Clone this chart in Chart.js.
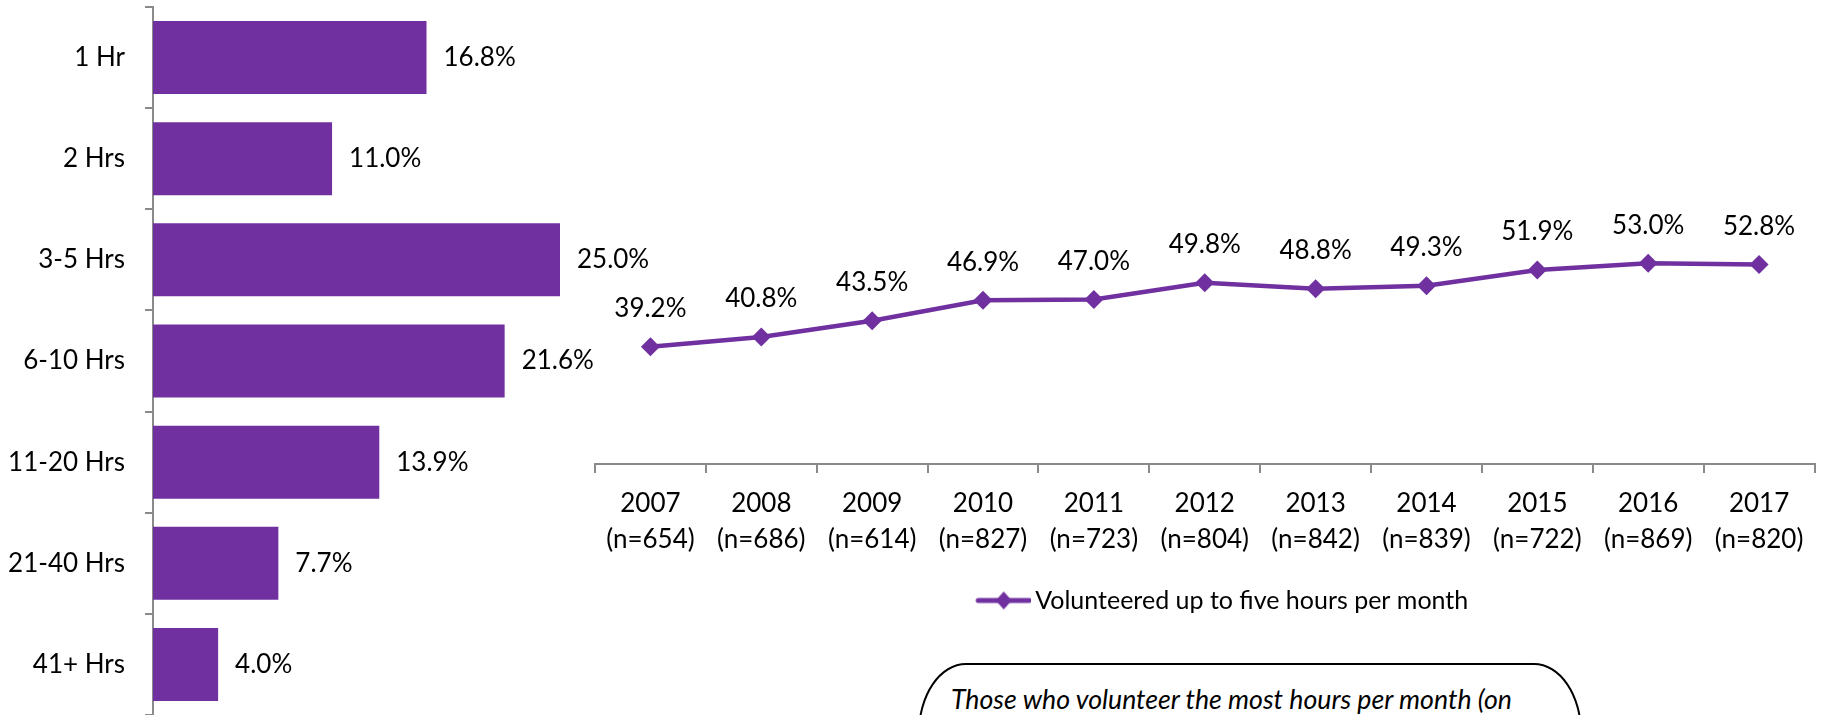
<!DOCTYPE html>
<html lang="en">
<head>
    <meta charset="UTF-8">
    <title>Volunteer Hours per Month</title>
    <style>
        body {
            margin: 0;
            padding: 0;
            background: #ffffff;
            font-family: 'Lato', sans-serif;
        }
        .page {
            position: relative;
            width: 1821px;
            height: 715px;
            overflow: hidden;
        }
        #hoursChart {
            position: absolute;
            left: 0;
            top: 0;
        }
        #trendChart {
            position: absolute;
            left: 560px;
            top: 0;
        }
        .note {
            position: absolute;
            left: 918px;
            top: 663px;
            width: 664px;
            height: 200px;
            box-sizing: border-box;
            border: 2px solid #000;
            border-radius: 48px / 70px;
            padding: 18px 31px;
            font-style: italic;
            font-size: 26.7px;
            line-height: 32px;
            color: #000;
            white-space: nowrap;
        }
    </style>
</head>
<body>
    <div class="page">
        <canvas id="hoursChart" width="700" height="715"></canvas>
        <canvas id="trendChart" width="1264" height="623"></canvas>
        <div class="note">Those who volunteer the most hours per month (on</div>
    </div>

    <script src="https://cdn.jsdelivr.net/npm/chart.js"></script>
    <script>
        // hours volunteered per month, share of volunteers
        const hourGroups = ['1 Hr', '2 Hrs', '3-5 Hrs', '6-10 Hrs', '11-20 Hrs', '21-40 Hrs', '41+ Hrs'];
        const hourShares = [16.8, 11.0, 25.0, 21.6, 13.9, 7.7, 4.0];

        // yearly trend: volunteered up to five hours per month
        const years = ['2007', '2008', '2009', '2010', '2011', '2012', '2013', '2014', '2015', '2016', '2017'];
        const sampleSizes = [654, 686, 614, 827, 723, 804, 842, 839, 722, 869, 820];
        const upToFive = [39.2, 40.8, 43.5, 46.9, 47.0, 49.8, 48.8, 49.3, 51.9, 53.0, 52.8];

        const purple = '#7030A0';
        const axisGray = '#8a8a8a';

        Chart.defaults.font.family = "'Lato', sans-serif";
        Chart.defaults.font.size = 26;
        Chart.defaults.color = '#000000';

        // writes the value of every bar / point next to it
        const valueLabels = {
            id: 'valueLabels',
            afterDatasetsDraw(chart, args, opts) {
                const ctx = chart.ctx;
                ctx.save();
                ctx.font = "26px 'Lato', sans-serif";
                ctx.fillStyle = '#000';
                ctx.textBaseline = 'middle';
                chart.data.datasets.forEach((ds, di) => {
                    chart.getDatasetMeta(di).data.forEach((el, i) => {
                        const text = ds.data[i].toFixed(1) + '%';
                        if (opts.side === 'right') {
                            ctx.textAlign = 'left';
                            ctx.fillText(text, el.x + opts.offset, el.y);
                        } else {
                            ctx.textAlign = 'center';
                            ctx.fillText(text, el.x, el.y - opts.offset);
                        }
                    });
                });
                ctx.restore();
            }
        };

        new Chart(document.getElementById('hoursChart'), {
            type: 'bar',
            data: {
                labels: hourGroups,
                datasets: [{
                    data: hourShares,
                    backgroundColor: purple,
                    barPercentage: 0.722,
                    categoryPercentage: 1
                }]
            },
            options: {
                indexAxis: 'y',
                responsive: false,
                animation: false,
                layout: { padding: { top: 7, bottom: 0, left: 0, right: 0 } },
                plugins: {
                    legend: { display: false },
                    tooltip: { enabled: false },
                    valueLabels: { side: 'right', offset: 17 }
                },
                scales: {
                    x: { display: false, min: 0, max: 33.6 },
                    y: {
                        offset: true,
                        grid: { offset: true, drawOnChartArea: false, tickLength: 8, color: axisGray, lineWidth: 2 },
                        border: { color: axisGray, width: 2 },
                        ticks: { padding: 20, color: '#000' },
                        afterFit(scale) {
                            scale.width = 153;
                            scale.paddingTop = 0;
                            scale.paddingBottom = 0;
                        }
                    }
                }
            },
            plugins: [valueLabels]
        });

        // legend marker: line with a diamond in the middle, drawn on the right
        // part of a wider transparent canvas so the legend item sits a bit right
        const markerBox = 72;
        const markerLine = 55;
        const marker = document.createElement('canvas');
        marker.width = markerBox + 17;
        marker.height = 22;
        const mctx = marker.getContext('2d');
        const mx0 = marker.width - markerLine;
        const mxc = mx0 + markerLine / 2;
        mctx.strokeStyle = purple;
        mctx.lineWidth = 5;
        mctx.lineCap = 'round';
        mctx.beginPath();
        mctx.moveTo(mx0 + 2, 11);
        mctx.lineTo(marker.width - 2, 11);
        mctx.stroke();
        mctx.fillStyle = purple;
        mctx.beginPath();
        mctx.moveTo(mxc, 2);
        mctx.lineTo(mxc + 8, 11);
        mctx.lineTo(mxc, 20);
        mctx.lineTo(mxc - 8, 11);
        mctx.closePath();
        mctx.fill();

        new Chart(document.getElementById('trendChart'), {
            type: 'line',
            data: {
                labels: years.map((y, i) => [y, '(n=' + sampleSizes[i] + ')']),
                datasets: [{
                    label: 'Volunteered up to five hours per month',
                    data: upToFive,
                    borderColor: purple,
                    backgroundColor: purple,
                    borderWidth: 4.5,
                    tension: 0,
                    fill: false,
                    pointStyle: 'rectRot',
                    pointRadius: 9.5,
                    pointBorderWidth: 0,
                    pointBackgroundColor: purple
                }]
            },
            options: {
                responsive: false,
                animation: false,
                layout: { padding: { top: 221, bottom: 0, left: 35, right: 0 } },
                plugins: {
                    tooltip: { enabled: false },
                    legend: {
                        position: 'bottom',
                        labels: {
                            usePointStyle: true,
                            pointStyleWidth: markerBox,
                            padding: 18,
                            color: '#000',
                            font: { size: 25 },
                            generateLabels(chart) {
                                return chart.data.datasets.map((ds, i) => ({
                                    text: ds.label,
                                    pointStyle: marker,
                                    datasetIndex: i,
                                    lineWidth: 0
                                }));
                            }
                        }
                    },
                    valueLabels: { side: 'top', offset: 38 }
                },
                scales: {
                    x: {
                        offset: true,
                        grid: { offset: true, drawOnChartArea: false, tickLength: 9, color: axisGray, lineWidth: 2 },
                        border: { color: axisGray, width: 2 },
                        ticks: { padding: 12.5, color: '#000', maxRotation: 0, font: { size: 26, lineHeight: 1.385 } },
                        afterFit(scale) {
                            scale.paddingLeft = 0;
                            scale.paddingRight = 0;
                        }
                    },
                    y: { display: false, min: 19.8, max: 60 }
                }
            },
            plugins: [valueLabels]
        });
    </script>
</body>
</html>
